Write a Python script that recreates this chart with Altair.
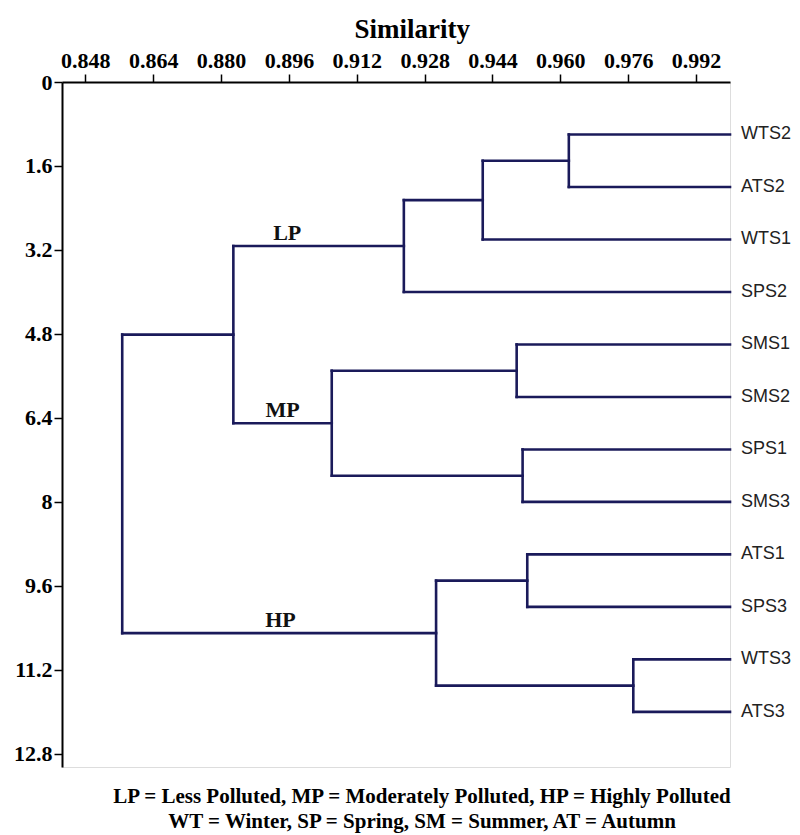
import altair as alt
import pandas as pd

# ---- data ----
leaves = ["WTS2", "ATS2", "WTS1", "SPS2", "SMS1", "SMS2",
          "SPS1", "SMS3", "ATS1", "SPS3", "WTS3", "ATS3"]
leaf_pos = [1, 2, 3, 4, 5, 6, 7, 8, 9, 10, 11, 12]
leaf_sim = 1.0

merge_id = ["c1", "c2", "c3", "c4", "c5", "c6", "c7", "c8", "c9", "c10", "c11"]
merge_a = ["WTS2", "c1", "c2", "SMS1", "SPS1", "c4", "c3", "ATS1", "WTS3", "c8", "c7"]
merge_b = ["ATS2", "WTS1", "SPS2", "SMS2", "SMS3", "c5", "c6", "SPS3", "ATS3", "c9", "c10"]
merge_sim = [0.962, 0.9417, 0.9231, 0.9497, 0.9511, 0.9061, 0.8829,
             0.9522, 0.9772, 0.9307, 0.8567]

cluster_names = ["LP", "MP", "HP"]
cluster_node = ["c3", "c6", "c10"]
cluster_label_x = [0.8956, 0.8945, 0.8940]

x_ticks = [0.848, 0.864, 0.880, 0.896, 0.912, 0.928, 0.944, 0.960, 0.976, 0.992]
y_ticks = [0, 1.6, 3.2, 4.8, 6.4, 8, 9.6, 11.2, 12.8]

footnote = ["LP = Less Polluted, MP = Moderately Polluted, HP = Highly Polluted",
            "WT = Winter, SP = Spring, SM = Summer, AT = Autumn"]

# ---- build dendrogram segments from the linkage ----
ypos = dict(zip(leaves, leaf_pos))
xsim = {l: leaf_sim for l in leaves}
segs = []
for m, a, b, s in zip(merge_id, merge_a, merge_b, merge_sim):
    ypos[m] = (ypos[a] + ypos[b]) / 2
    xsim[m] = s
    segs.append({"x": s, "x2": s, "y": ypos[a], "y2": ypos[b]})
    for c in (a, b):
        segs.append({"x": s, "x2": xsim[c], "y": ypos[c], "y2": ypos[c]})
seg_df = pd.DataFrame(segs)

leaf_df = pd.DataFrame({"name": leaves, "y": leaf_pos, "x": [leaf_sim] * len(leaves)})
clus_df = pd.DataFrame({"name": cluster_names, "x": cluster_label_x,
                        "y": [ypos[n] for n in cluster_node]})

LINE = "#1a1a5a"
SERIF = "Liberation Serif"

xscale = alt.Scale(domain=[0.8425, 1.0], nice=False, zero=False)
yscale = alt.Scale(domain=[0, 13.05], nice=False, zero=False, reverse=True)

xaxis = alt.Axis(orient="top", values=x_ticks, format=".3f", title="Similarity",
                 titleFont=SERIF, titleFontSize=27, titleFontWeight="bold",
                 titleColor="black", titleX=349.7, titleY=-45, titleBaseline="alphabetic",
                 titleAlign="center",
                 labelFont=SERIF, labelFontSize=22, labelFontWeight="bold",
                 labelColor="black", labelPadding=2, tickSize=8, tickColor="black",
                 tickWidth=1.5, domainColor="black", domainWidth=2, grid=False,
                 labelFlush=False, labelOverlap=False)
yaxis = alt.Axis(values=y_ticks, format=".1~f", title=None,
                 labelFont=SERIF, labelFontSize=22, labelFontWeight="bold",
                 labelColor="black", labelPadding=2, tickSize=8, tickColor="black",
                 tickWidth=1.5, domainColor="black", domainWidth=2, grid=False,
                 labelFlush=False, labelOverlap=False)

lines = alt.Chart(seg_df).mark_rule(color=LINE, strokeWidth=2.6, strokeCap="square").encode(
    x=alt.X("x:Q", scale=xscale, axis=xaxis),
    x2="x2:Q",
    y=alt.Y("y:Q", scale=yscale, axis=yaxis),
    y2="y2:Q",
)

leaf_text = alt.Chart(leaf_df).mark_text(
    align="left", baseline="middle", dx=11, font="Liberation Sans",
    fontSize=18, color="#222222"
).encode(x="x:Q", y="y:Q", text="name:N")

clus_text = alt.Chart(clus_df).mark_text(
    align="center", baseline="alphabetic", dy=-6, font=SERIF,
    fontSize=22, fontWeight="bold", color="#111111"
).encode(x="x:Q", y="y:Q", text="name:N")

chart = alt.layer(lines, leaf_text, clus_text).properties(
    width=668, height=685,
    autosize=alt.AutoSizeParams(type="none"),
    padding={"left": 54, "top": 74, "right": 62, "bottom": 66},
    title=alt.TitleParams(text=footnote, orient="bottom", anchor="middle",
                          font=SERIF, fontSize=21, fontWeight="bold", color="black",
                          lineHeight=24.5, offset=19, dx=26, baseline="top"),
).configure_view(stroke=None).configure(background="white")

chart.save("out.html", embed_options={"renderer": "svg", "actions": False})
